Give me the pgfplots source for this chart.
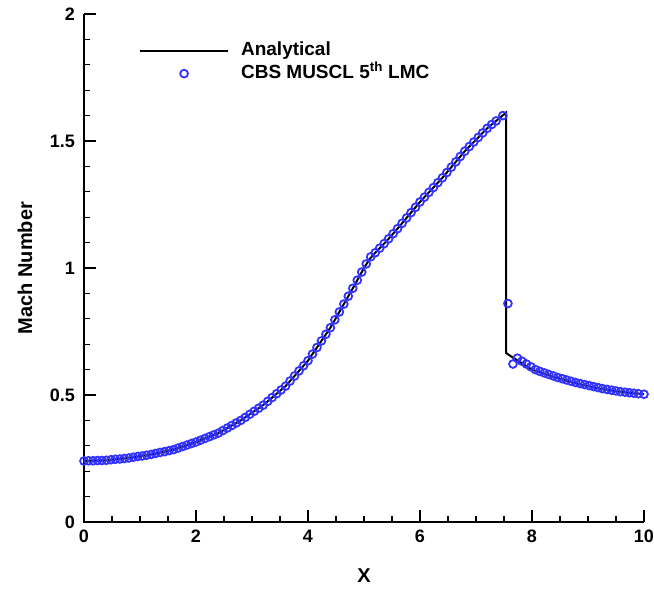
\documentclass[border=0pt]{standalone}
\usepackage{pgfplots}
\pgfplotsset{compat=1.18}
\usepackage{fontspec}
\setmainfont{Liberation Sans}
\definecolor{cbsblue}{RGB}{51,51,255}
\begin{document}
\begin{tikzpicture}
\begin{axis}[
 scale only axis, width=560pt, height=508pt,
 xmin=0, xmax=10, ymin=0, ymax=2,
 axis line style={draw=none},
 xtick={0,2,4,6,8,10}, ytick={0,0.5,1,1.5,2},
 xtick pos=bottom, ytick pos=left,
 major tick length=0pt, minor tick length=0pt,
 /pgf/number format/assume math mode=true,
 ticklabel style={font=\bfseries\fontsize{18}{18}\selectfont},
 xticklabel style={inner sep=0pt, anchor=north, yshift=-8pt},
 yticklabel style={inner sep=0pt, anchor=east, xshift=-9pt},
 xlabel={X}, ylabel={Mach Number},
 label style={font=\bfseries\fontsize{20}{20}\selectfont},
 xlabel style={at={([yshift=-54pt]axis description cs:0.5,0)}, anchor=center},
 ylabel style={at={([xshift=-59pt]axis description cs:0,0.5)}, anchor=center},
 legend style={draw=none, fill=none, at={(axis description cs:0.098,0.945)}, anchor=north west,
   font=\bfseries\fontsize{19}{19}\selectfont, inner sep=0pt, row sep=6pt,
   nodes={inner sep=0pt, text height=13pt, text depth=4pt}},
 legend cell align=left,
 clip=false,
]
\addplot[black, line width=2pt, mark=none, legend image code/.code={\draw[black, line width=2pt] (0pt,0pt) -- (88pt,0pt); \path (100pt,0pt);}] coordinates {
(0.0,0.240) (0.4,0.243) (0.8,0.252) (1.2,0.266) (1.6,0.285) (2.0,0.315) (2.4,0.350) (2.8,0.400)
(3.2,0.460) (3.6,0.535) (4.0,0.635) (4.4,0.765) (4.8,0.920) (5.0,1.000) (5.1,1.035) (5.2,1.060)
(5.4,1.105) (5.6,1.155) (6.0,1.260) (6.4,1.355) (6.8,1.460) (7.2,1.550) (7.54,1.612)
(7.54,0.665) (7.64,0.650) (8.0,0.600) (8.4,0.570) (8.8,0.545) (9.2,0.525) (9.6,0.512) (10.0,0.503)
};
\addlegendentry{Analytical}
\addplot[only marks, mark=o, mark size=3.9pt, cbsblue, mark options={line width=1.8pt},
  legend image code/.code={\draw[cbsblue, line width=1.8pt] (44pt,0pt) circle (3.9pt); \path (0pt,0pt) (100pt,0pt);}] coordinates {
(0.00,0.240) (0.08,0.241) (0.16,0.241) (0.24,0.242) (0.32,0.242) (0.40,0.243) (0.48,0.245) (0.56,0.247)
(0.64,0.248) (0.72,0.250) (0.80,0.252) (0.88,0.255) (0.96,0.258) (1.04,0.260) (1.12,0.263) (1.20,0.266)
(1.28,0.270) (1.36,0.274) (1.44,0.277) (1.52,0.281) (1.60,0.285) (1.68,0.291) (1.76,0.297) (1.84,0.303)
(1.92,0.309) (2.00,0.315) (2.08,0.322) (2.16,0.329) (2.24,0.336) (2.32,0.343) (2.40,0.350) (2.48,0.360)
(2.56,0.370) (2.64,0.380) (2.72,0.390) (2.80,0.400) (2.88,0.412) (2.96,0.424) (3.04,0.436) (3.12,0.448)
(3.20,0.460) (3.28,0.475) (3.36,0.490) (3.44,0.505) (3.52,0.520) (3.60,0.535) (3.68,0.555) (3.76,0.575)
(3.84,0.595) (3.92,0.615) (4.00,0.635) (4.08,0.661) (4.16,0.687) (4.24,0.713) (4.32,0.739) (4.40,0.765)
(4.48,0.796) (4.56,0.827) (4.64,0.858) (4.72,0.889) (4.80,0.920) (4.88,0.952) (4.96,0.984) (5.04,1.016)
(5.12,1.044) (5.20,1.060) (5.28,1.078) (5.36,1.096) (5.44,1.115) (5.52,1.135) (5.60,1.155) (5.68,1.176)
(5.76,1.197) (5.84,1.218) (5.92,1.239) (6.00,1.260) (6.08,1.279) (6.16,1.298) (6.24,1.317) (6.32,1.336)
(6.40,1.355) (6.48,1.376) (6.56,1.397) (6.64,1.418) (6.72,1.439) (6.80,1.460) (6.88,1.478) (6.96,1.496)
(7.04,1.514) (7.12,1.532) (7.20,1.550) (7.28,1.565) (7.36,1.579) (7.48,1.600) (7.57,0.860) (7.66,0.622)
(7.74,0.645) (7.82,0.633) (7.90,0.622) (7.98,0.611) (8.06,0.600) (8.14,0.593) (8.22,0.587) (8.30,0.581)
(8.38,0.575) (8.46,0.569) (8.54,0.564) (8.62,0.559) (8.70,0.554) (8.78,0.549) (8.86,0.545) (8.94,0.541)
(9.02,0.537) (9.10,0.533) (9.18,0.529) (9.26,0.525) (9.34,0.522) (9.42,0.519) (9.50,0.516) (9.58,0.513)
(9.66,0.511) (9.74,0.509) (9.82,0.507) (9.90,0.505) (10.00,0.503)
};
\addlegendentry{CBS MUSCL 5\textsuperscript{th} LMC}
% axis frame (left and bottom) and inward ticks
\addplot[black, line width=2.4pt, mark=none, forget plot] coordinates {(0,2) (0,0) (10,0)};
\pgfplotsinvokeforeach{2,4,6,8,10}{\addplot[black, line width=2pt, mark=none, forget plot] coordinates {(#1,0) (#1,0.0472)};}
\pgfplotsinvokeforeach{0.5,1,1.5,2.5,3,3.5,4.5,5,5.5,6.5,7,7.5,8.5,9,9.5}{\addplot[black, line width=1.2pt, mark=none, forget plot] coordinates {(#1,0) (#1,0.0236)};}
\pgfplotsinvokeforeach{0.5,1,1.5,2}{\addplot[black, line width=2pt, mark=none, forget plot] coordinates {(0,#1) (0.214,#1)};}
\pgfplotsinvokeforeach{0.1,0.2,0.3,0.4,0.6,0.7,0.8,0.9,1.1,1.2,1.3,1.4,1.6,1.7,1.8,1.9}{\addplot[black, line width=1.2pt, mark=none, forget plot] coordinates {(0,#1) (0.107,#1)};}
\end{axis}
\path (-84pt,-67pt) rectangle (570pt,522pt);
\end{tikzpicture}
\end{document}
